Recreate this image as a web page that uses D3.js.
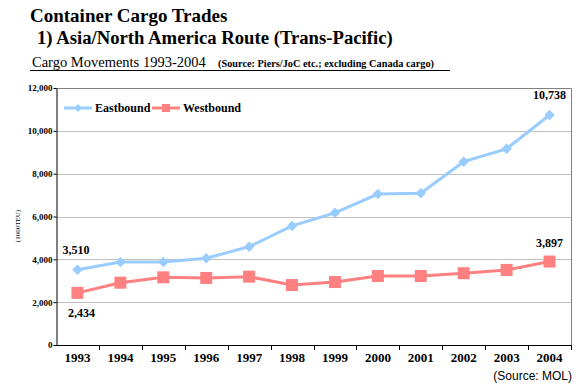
<!DOCTYPE html>
<html><head><meta charset="utf-8">
<script src="https://cdn.jsdelivr.net/npm/d3@7"></script>
<style>
body{margin:0;background:#fff;}
svg{display:block;font-family:"Liberation Serif","Times New Roman",serif;}
</style></head>
<body><svg id="c" width="579" height="386"></svg>
<script>
const years = ["1993","1994","1995","1996","1997","1998","1999","2000","2001","2002","2003","2004"];
const eastbound = [3510,3880,3880,4050,4590,5560,6170,7050,7090,8560,9160,10738];
const westbound = [2434,2910,3160,3130,3190,2800,2940,3220,3220,3350,3505,3897];
const yTicks = [0,2000,4000,6000,8000,10000,12000];
const seriesNames = ["Eastbound","Westbound"];
const seriesColors = ["#99CCFF","#FF8080"];

const svg = d3.select("#c");
const m = {left:56, right:571, top:88, bottom:345};
const x = d3.scaleBand().domain(years).range([m.left, m.right]);
const y = d3.scaleLinear().domain([0,12000]).range([m.bottom, m.top]);
const fmt = d3.format(",");

// titles
svg.append("text").attr("x",30).attr("y",22).attr("font-size",19).attr("font-weight","bold").text("Container Cargo Trades");
svg.append("text").attr("x",37).attr("y",44).attr("font-size",18.7).attr("font-weight","bold").text("1) Asia/North America Route (Trans-Pacific)");
svg.append("text").attr("x",32).attr("y",67).attr("font-size",14.5).text("Cargo Movements 1993-2004");
svg.append("text").attr("x",218).attr("y",67).attr("font-size",10.3).attr("font-weight","bold").text("(Source:  Piers/JoC etc.; excluding Canada cargo)");
svg.append("line").attr("x1",30).attr("x2",450).attr("y1",70.5).attr("y2",70.5).attr("stroke","#000").attr("stroke-width",1);

// gridlines
svg.append("g").selectAll("line").data(yTicks.filter(d=>d>0 && d<12000)).join("line")
  .attr("x1",m.left).attr("x2",m.right).attr("y1",d=>Math.round(y(d))+0.5).attr("y2",d=>Math.round(y(d))+0.5)
  .attr("stroke","#C0C0C0");
// top/right border
svg.append("path").attr("d",`M${m.left},${m.top+0.5}H${m.right+0.5}V${m.bottom}`).attr("fill","none").attr("stroke","#808080");

// axes
const yAxis = svg.append("g").attr("transform",`translate(${m.left+0.5},0)`)
  .call(d3.axisLeft(y).tickValues(yTicks).tickFormat(fmt).tickSize(3).tickSizeOuter(0));
yAxis.select(".domain").attr("stroke","#000");
yAxis.selectAll("text").attr("font-family","Liberation Serif").attr("font-weight","bold").attr("font-size",9).attr("x",-4);
const xAxis = svg.append("g").attr("transform",`translate(0,${m.bottom+0.5})`)
  .call(d3.axisBottom(x).tickSize(0).tickSizeOuter(0));
xAxis.select(".domain").attr("stroke","#000").attr("d",`M${m.left},0H${m.right}`);
xAxis.selectAll("text").attr("font-family","Liberation Serif").attr("font-weight","bold").attr("font-size",13).attr("dy","0").attr("y",16);
// category tick marks between bands
svg.append("g").selectAll("line").data(years.slice(1)).join("line")
  .attr("x1",d=>Math.round(x(d))+0.5).attr("x2",d=>Math.round(x(d))+0.5)
  .attr("y1",m.bottom).attr("y2",m.bottom+5).attr("stroke","#000");
svg.append("line").attr("x1",m.right+0.5).attr("x2",m.right+0.5).attr("y1",m.bottom).attr("y2",m.bottom+5).attr("stroke","#000");

// y label
svg.append("text").attr("transform","translate(20,226) rotate(-90)").attr("text-anchor","middle")
  .attr("font-size",7).text("(1000TEU)");

const cx = d => x(d) + x.bandwidth()/2;
const line = d3.line().x((d,i)=>cx(years[i])).y(d=>y(d));
const data = [eastbound, westbound];
data.forEach((vals,si)=>{
  svg.append("path").datum(vals).attr("d",line).attr("fill","none").attr("stroke",seriesColors[si]).attr("stroke-width",3);
});
// markers
svg.append("g").selectAll("path").data(eastbound).join("path")
  .attr("transform",(d,i)=>`translate(${cx(years[i])},${y(d)})`)
  .attr("d",d3.symbol(d3.symbolDiamond2,70)()).attr("fill",seriesColors[0]);
svg.append("g").selectAll("rect").data(westbound).join("rect")
  .attr("x",(d,i)=>cx(years[i])-6).attr("y",d=>y(d)-6).attr("width",12).attr("height",12).attr("fill",seriesColors[1]);

// data labels
const lab = (t,xx,yy)=>svg.append("text").attr("x",xx).attr("y",yy).attr("font-size",12).attr("font-weight","bold").attr("text-anchor","middle").text(t);
lab(fmt(eastbound[0]), cx(years[0])-1.5, y(eastbound[0])-16);
lab(fmt(westbound[0]), cx(years[0])+4, y(westbound[0])+24);
lab(fmt(eastbound[11]), cx(years[11]), y(eastbound[11])-16);
lab(fmt(westbound[11]), cx(years[11]), y(westbound[11])-15);

// legend
const lg = svg.append("g");
[[64,seriesNames[0]],[152,seriesNames[1]]].forEach(([lx,name],i)=>{
  lg.append("line").attr("x1",lx).attr("x2",lx+28).attr("y1",108).attr("y2",108).attr("stroke",seriesColors[i]).attr("stroke-width",3);
  if(i===0) lg.append("path").attr("transform",`translate(${lx+14},108)`).attr("d",d3.symbol(d3.symbolDiamond2,40)()).attr("fill",seriesColors[0]);
  else lg.append("rect").attr("x",lx+10).attr("y",104).attr("width",8).attr("height",8).attr("fill",seriesColors[1]);
  lg.append("text").attr("x",lx+31).attr("y",112).attr("font-size",12).attr("font-weight","bold").text(name);
});

// source
svg.append("text").attr("x",572).attr("y",380).attr("text-anchor","end").attr("font-family","Liberation Sans, Arial, sans-serif").attr("font-size",12).text("(Source: MOL)");
</script></body></html>
